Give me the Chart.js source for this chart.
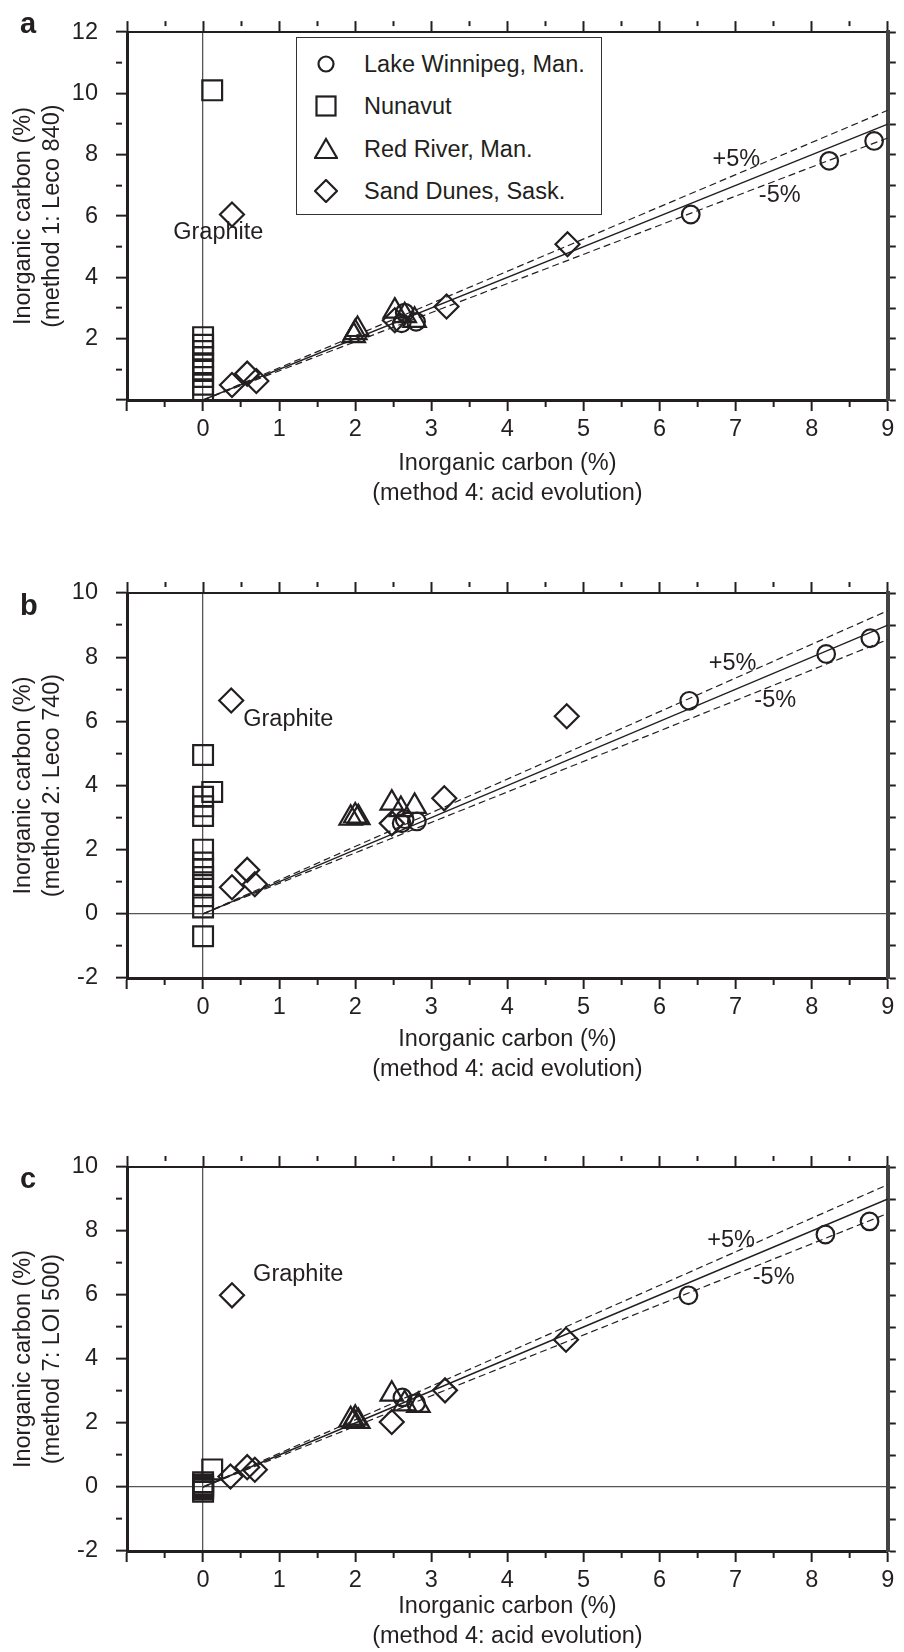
<!DOCTYPE html>
<html>
<head>
<meta charset="utf-8">
<script src="https://cdn.jsdelivr.net/npm/chart.js@4.4.1/dist/chart.umd.min.js"></script>
<style>
  body { margin: 0; background: #fff; width: 904px; height: 1652px; position: relative; overflow: hidden;
         font-family: "Liberation Sans", Arial, sans-serif; color: #231f20; }
  canvas { position: absolute; left: 0; }
  .tag { position: absolute; left: 20px; font-weight: bold; font-size: 29px; line-height: 32px; }
  #legend { position: absolute; left: 296px; top: 37px; width: 306px; height: 178px;
            border: 1.5px solid #333; box-sizing: border-box; background: #fff; }
  .row { position: absolute; left: 0; height: 30px; display: flex; align-items: center; font-size: 23.5px; white-space: nowrap; }
  .row svg { margin-left: 17px; margin-right: 26px; }
</style>
</head>
<body>
<canvas id="chartA" width="904" height="508" style="top:0px"></canvas>
<canvas id="chartB" width="904" height="524" style="top:560px"></canvas>
<canvas id="chartC" width="904" height="521" style="top:1130px"></canvas>
<div class="tag" style="top:7px">a</div>
<div class="tag" style="top:589px">b</div>
<div class="tag" style="top:1162px">c</div>
<div id="legend"></div>
<script>
const ink = "#231f20";

const seriesNames = ["Lake Winnipeg, Man.", "Nunavut", "Red River, Man.", "Sand Dunes, Sask."];
const xTitle = ["Inorganic carbon (%)", "(method 4: acid evolution)"];
const yTitleA = ["Inorganic carbon (%)", "(method 1: Leco 840)"];
const yTitleB = ["Inorganic carbon (%)", "(method 2: Leco 740)"];
const yTitleC = ["Inorganic carbon (%)", "(method 7: LOI 500)"];

// 1:1 line and the +/-5% lines
const refX = [0, 9];
const refOne = [0, 9];
const refPlus5 = [0, 9.45];
const refMinus5 = [0, 8.55];

// panel a: method 1 vs method 4, [x, y]
const lakeA = [[2.61, 2.5], [2.65, 2.85], [2.8, 2.55], [6.41, 6.05], [8.23, 7.8], [8.82, 8.45]];
const nunavutA = [[0, 0.3], [0, 0.5], [0, 0.75], [0, 1.0], [0, 1.2], [0, 1.4], [0, 1.6], [0, 1.8], [0, 2.05], [0.12, 10.1]];
const redA = [[1.98, 2.1], [2.0, 2.2], [2.03, 2.3], [2.52, 2.9], [2.65, 2.75], [2.78, 2.6]];
const sandA = [[0.38, 0.49], [0.58, 0.86], [0.7, 0.62], [0.38, 6.05], [2.52, 2.6], [3.2, 3.05], [4.79, 5.08]];

// panel b: method 2 vs method 4
const lakeB = [[2.61, 2.82], [2.65, 2.95], [2.81, 2.88], [6.39, 6.64], [8.19, 8.1], [8.77, 8.59]];
const nunavutB = [[0, 4.95], [0.12, 3.8], [0, 3.65], [0, 3.35], [0, 3.05], [0, 2.0], [0, 1.6], [0, 1.4], [0, 1.15], [0, 0.9], [0, 0.55], [0, 0.2], [0, -0.7]];
const redB = [[1.94, 2.98], [2.0, 3.05], [2.04, 3.0], [2.48, 3.45], [2.6, 3.25], [2.78, 3.35]];
const sandB = [[0.38, 0.83], [0.58, 1.37], [0.68, 0.92], [0.37, 6.65], [2.48, 2.82], [3.17, 3.6], [4.78, 6.16]];

// panel c: method 7 vs method 4
const lakeC = [[2.62, 2.8], [2.8, 2.62], [6.38, 5.99], [8.18, 7.89], [8.76, 8.3]];
const nunavutC = [[0, 0.0], [0, 0.08], [0, -0.08], [0, 0.15], [0, -0.15], [0, 0.04], [0, -0.04], [0.12, 0.55]];
const redC = [[1.94, 2.1], [1.98, 2.05], [2.0, 2.15], [2.04, 2.05], [2.48, 2.9], [2.65, 2.6], [2.83, 2.55]];
const sandC = [[0.36, 0.33], [0.58, 0.62], [0.68, 0.54], [0.38, 5.99], [2.48, 2.03], [3.18, 3.02], [4.77, 4.6]];

const markers = [
  { style: "circle", radius: 8.8 },
  { style: "rect", radius: 14 },
  { style: "triangle", radius: 13 },
  { style: "rectRot", radius: 12 }
];

const fontSize = 23.5;
const isWhole = v => Math.abs(v - Math.round(v)) < 1e-6;
const isEven = v => Math.abs(v / 2 - Math.round(v / 2)) < 1e-6;
const isZero = c => c.tick && Math.abs(c.tick.value) < 1e-6;
const clear = "rgba(0,0,0,0)";

// text written at data coordinates
const textLabels = {
  id: "textLabels",
  afterDatasetsDraw(chart, args, opts) {
    const { ctx, scales: { x, y } } = chart;
    ctx.save();
    ctx.font = fontSize + 'px "Liberation Sans", Arial, sans-serif';
    ctx.fillStyle = ink;
    ctx.textBaseline = "middle";
    (opts.items || []).forEach(it => {
      ctx.textAlign = it.align || "center";
      ctx.fillText(it.text, x.getPixelForValue(it.x), y.getPixelForValue(it.y));
    });
    ctx.restore();
  }
};

function scatterSet(i, arr) {
  return {
    label: seriesNames[i],
    data: arr.map(([x, y]) => ({ x, y })),
    pointStyle: markers[i].style,
    pointRadius: markers[i].radius,
    pointBorderWidth: 2.2,
    pointBorderColor: ink,
    pointBackgroundColor: clear
  };
}

function refLine(ys, dash, width) {
  return {
    data: refX.map((x, i) => ({ x, y: ys[i] })),
    showLine: true,
    pointRadius: 0,
    borderColor: ink,
    borderWidth: width,
    borderDash: dash
  };
}

function makePanel(id, sets, yMin, yMax, yTitle, hideZero, padTop, bottomH, notes) {
  const datasets = sets.map((arr, i) => scatterSet(i, arr));
  datasets.push(refLine(refOne, [], 1.4));
  datasets.push(refLine(refPlus5, [7, 4], 1.2));
  datasets.push(refLine(refMinus5, [7, 4], 1.2));

  new Chart(document.getElementById(id), {
    type: "scatter",
    data: { datasets },
    options: {
      responsive: false,
      animation: false,
      devicePixelRatio: 1,
      layout: { padding: { top: padTop, right: 3, left: 0, bottom: 0 } },
      plugins: {
        legend: { display: false },
        tooltip: { enabled: false },
        textLabels: { items: notes }
      },
      scales: {
        x: {
          type: "linear", position: "bottom", min: -1, max: 9,
          ticks: {
            stepSize: 0.5, autoSkip: false, maxRotation: 0, maxTicksLimit: 100, padding: 4,
            color: ink, font: { size: fontSize, lineHeight: 1.2 },
            callback: v => (isWhole(v) && v >= 0) ? String(Math.round(v)) : ""
          },
          grid: {
            color: c => isZero(c) ? "#555" : clear, lineWidth: 1.3,
            tickLength: 11, tickColor: ink, tickWidth: 2,
            tickBorderDash: c => (c.tick && isWhole(c.tick.value)) ? [] : [5, 30]
          },
          border: { color: ink, width: 3 },
          title: { display: true, text: xTitle, color: ink, font: { size: fontSize, lineHeight: 1.27 }, padding: 0 },
          afterFit: s => { s.height = bottomH; }
        },
        x2: {
          type: "linear", position: "top", min: -1, max: 9,
          ticks: { display: false, stepSize: 0.5, autoSkip: false, maxTicksLimit: 100 },
          grid: {
            drawOnChartArea: false, tickLength: 11, tickColor: ink, tickWidth: 2,
            tickBorderDash: c => (c.tick && isWhole(c.tick.value)) ? [] : [5, 30]
          },
          border: { color: ink, width: 2 },
          afterFit: s => { s.height = 11; }
        },
        y: {
          type: "linear", position: "left", min: yMin, max: yMax,
          ticks: {
            stepSize: 1, autoSkip: false, maxTicksLimit: 100, padding: 18,
            color: ink, font: { size: fontSize },
            callback: v => (isEven(v) && !(hideZero && Math.abs(v) < 1e-6)) ? String(Math.round(v)) : ""
          },
          grid: {
            color: c => isZero(c) ? "#555" : clear, lineWidth: 1.3,
            tickLength: 11, tickColor: ink, tickWidth: 2,
            tickBorderDash: c => (c.tick && isEven(c.tick.value)) ? [] : [6, 30]
          },
          border: { color: ink, width: 3 },
          title: { display: true, text: yTitle, color: ink, font: { size: fontSize, lineHeight: 1.23 }, padding: { top: 9.5, bottom: 0 } },
          afterFit: s => { s.width = 127; }
        },
        y2: {
          type: "linear", position: "right", min: yMin, max: yMax,
          ticks: { display: false, stepSize: 1, autoSkip: false, maxTicksLimit: 100 },
          grid: { drawOnChartArea: false, tickLength: 8, tickColor: ink, tickWidth: 2 },
          border: { color: "#444", width: 4 },
          afterFit: s => { s.width = 8; }
        }
      }
    },
    plugins: [textLabels]
  });
}

makePanel("chartA", [lakeA, nunavutA, redA, sandA], 0, 12, yTitleA, true, 6, 108, [
  { text: "Graphite", x: 0.2, y: 5.45 },
  { text: "+5%", x: 7.01, y: 7.83 },
  { text: "-5%", x: 7.58, y: 6.68 }
]);
makePanel("chartB", [lakeB, nunavutB, redB, sandB], -2, 10, yTitleB, false, 22, 106, [
  { text: "Graphite", x: 1.12, y: 6.05 },
  { text: "+5%", x: 6.96, y: 7.81 },
  { text: "-5%", x: 7.52, y: 6.64 }
]);
makePanel("chartC", [lakeC, nunavutC, redC, sandC], -2, 10, yTitleC, false, 26, 100, [
  { text: "Graphite", x: 1.25, y: 6.65 },
  { text: "+5%", x: 6.94, y: 7.71 },
  { text: "-5%", x: 7.5, y: 6.56 }
]);

// legend of panel a
const legendShapes = [
  '<circle cx="12" cy="12" r="7.5" fill="none" stroke="' + ink + '" stroke-width="2.2"/>',
  '<rect x="2.5" y="2.5" width="19" height="19" fill="none" stroke="' + ink + '" stroke-width="2.2"/>',
  '<polygon points="12,2 23,21 1,21" fill="none" stroke="' + ink + '" stroke-width="2.2"/>',
  '<polygon points="12,1 23,12 12,23 1,12" fill="none" stroke="' + ink + '" stroke-width="2.2"/>'
];
const rowTops = [11, 53, 96, 138];
const legendEl = document.getElementById("legend");
seriesNames.forEach((name, i) => {
  const row = document.createElement("div");
  row.className = "row";
  row.style.top = rowTops[i] + "px";
  row.innerHTML = '<svg width="24" height="24" viewBox="0 0 24 24">' + legendShapes[i] + "</svg><span>" + name + "</span>";
  legendEl.appendChild(row);
});
</script>
</body>
</html>
